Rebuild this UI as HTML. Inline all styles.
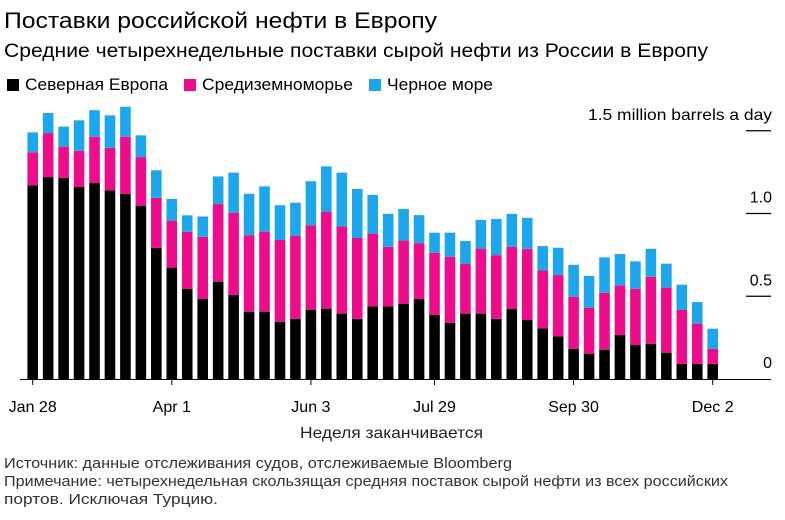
<!DOCTYPE html>
<html><head><meta charset="utf-8">
<style>
body{margin:0;background:#fff;width:785px;height:515px;overflow:hidden;font-family:"Liberation Sans","Noto Sans CJK SC",sans-serif;}
svg text{font-family:"Liberation Sans","Noto Sans CJK SC",sans-serif;}
</style></head>
<body>
<svg id="chart" width="785" height="515" xmlns="http://www.w3.org/2000/svg">
<text x="4" y="28" font-size="22" fill="#000" textLength="433" lengthAdjust="spacingAndGlyphs">Поставки российской нефти в Европу</text>
<text x="4" y="57" font-size="19" fill="#000" textLength="704" lengthAdjust="spacingAndGlyphs">Средние четырехнедельные поставки сырой нефти из России в Европу</text>
<g>
<rect x="7" y="79" width="12" height="12" fill="#000"/>
<text x="25" y="90" font-size="16.5" textLength="143" lengthAdjust="spacingAndGlyphs">Северная Европа</text>
<rect x="184" y="79" width="12" height="12" fill="#ee0c8b"/>
<text x="202" y="90" font-size="16.5" textLength="151" lengthAdjust="spacingAndGlyphs">Средиземноморье</text>
<rect x="369" y="79" width="12" height="12" fill="#1ca6ec"/>
<text x="387" y="90" font-size="16.5" textLength="106" lengthAdjust="spacingAndGlyphs">Черное море</text>
</g>
<g id="bars"></g>
<g id="axes"></g>
<text x="300" y="438" font-size="16" textLength="183" lengthAdjust="spacingAndGlyphs" fill="#222">Неделя заканчивается</text>
<text x="4" y="468" font-size="14.5" fill="#333" textLength="508" lengthAdjust="spacingAndGlyphs">Источник: данные отслеживания судов, отслеживаемые Bloomberg</text>
<text x="4" y="486" font-size="14.5" fill="#333" textLength="724" lengthAdjust="spacingAndGlyphs">Примечание: четырехнедельная скользящая средняя поставок сырой нефти из всех российских</text>
<text x="4" y="504" font-size="14.5" fill="#333" textLength="214" lengthAdjust="spacingAndGlyphs">портов. Исключая Турцию.</text>
</svg>
<script>
const northEurope = [1.17,1.22,1.215,1.16,1.184,1.14,1.118,1.047,0.793,0.673,0.544,0.483,0.588,0.508,0.407,0.407,0.346,0.363,0.417,0.425,0.395,0.363,0.439,0.439,0.455,0.483,0.387,0.34,0.395,0.395,0.363,0.423,0.356,0.306,0.258,0.183,0.153,0.177,0.266,0.205,0.213,0.159,0.091,0.091,0.091];
const mediterranean = [0.2,0.266,0.189,0.219,0.28,0.257,0.346,0.294,0.302,0.284,0.346,0.376,0.469,0.497,0.462,0.483,0.494,0.503,0.512,0.586,0.526,0.489,0.439,0.36,0.383,0.338,0.376,0.399,0.3,0.393,0.385,0.376,0.431,0.35,0.37,0.314,0.278,0.344,0.3,0.34,0.405,0.393,0.326,0.243,0.092];
const blackSea = [0.12,0.121,0.121,0.184,0.16,0.196,0.181,0.131,0.166,0.131,0.099,0.123,0.167,0.242,0.25,0.274,0.21,0.199,0.266,0.274,0.326,0.296,0.234,0.199,0.189,0.169,0.121,0.145,0.139,0.173,0.219,0.199,0.187,0.147,0.165,0.193,0.192,0.214,0.189,0.166,0.169,0.145,0.153,0.131,0.121];
const xTickIndex = [0,9,18,26,35,44];
const xTickLabels = ["Jan 28","Apr 1","Jun 3","Jul 29","Sep 30","Dec 2"];
const yTicks = [0,0.5,1.0,1.5];
const yTickLabels = ["0","0.5","1.0","1.5 million barrels a day"];

const NS="http://www.w3.org/2000/svg";
const x0=32.7, step=(712.7-32.7)/44, bw=10.6;
const yBase=379, pxPerUnit=165.5;
function xScale(i){return x0+i*step;}
function yScale(v){return yBase-v*pxPerUnit;}
function mk(tag,attrs,parent){const e=document.createElementNS(NS,tag);for(const k in attrs)e.setAttribute(k,attrs[k]);parent.appendChild(e);return e;}
const bars=document.getElementById('bars');
const series=[[northEurope,'#000','north-europe'],[mediterranean,'#ee0c8b','mediterranean'],[blackSea,'#1ca6ec','black-sea']];
for(let i=0;i<northEurope.length;i++){
  let cum=0;
  for(const [arr,col,nm] of series){
    const y1=yScale(cum), y2=yScale(cum+arr[i]);
    const r=mk('rect',{x:xScale(i)-bw/2,y:y2,width:bw,height:y1-y2,fill:col},bars);
    
    
    cum+=arr[i];
  }
}
const axes=document.getElementById('axes');
const base=mk('line',{x1:20,x2:771,y1:yBase+0.5,y2:yBase+0.5,stroke:'#000','stroke-width':1},axes);


xTickIndex.forEach((idx,k)=>{
  const x=xScale(idx);
  const t=mk('line',{x1:x,x2:x,y1:yBase,y2:yBase+6,stroke:'#000','stroke-width':1},axes);
  
  
  const tx=mk('text',{x:x,y:412,'font-size':16,'text-anchor':'middle',fill:'#000'},axes);
  tx.textContent=xTickLabels[k];
  
  
});
yTicks.forEach((v,k)=>{
  const y=yScale(v);
  if(v>0){
    const l=mk('line',{x1:746,x2:771,y1:y,y2:y,stroke:'#000','stroke-width':1.2},axes);
    
    
  }
  const attrs={x:772,y:y-11,'font-size':16,'text-anchor':'end',fill:'#000'};
  if(v===1.5){attrs.textLength=184;attrs.lengthAdjust='spacingAndGlyphs';}
  const tx=mk('text',attrs,axes);
  tx.textContent=yTickLabels[k];
  
  
});
</script>
</body></html>
